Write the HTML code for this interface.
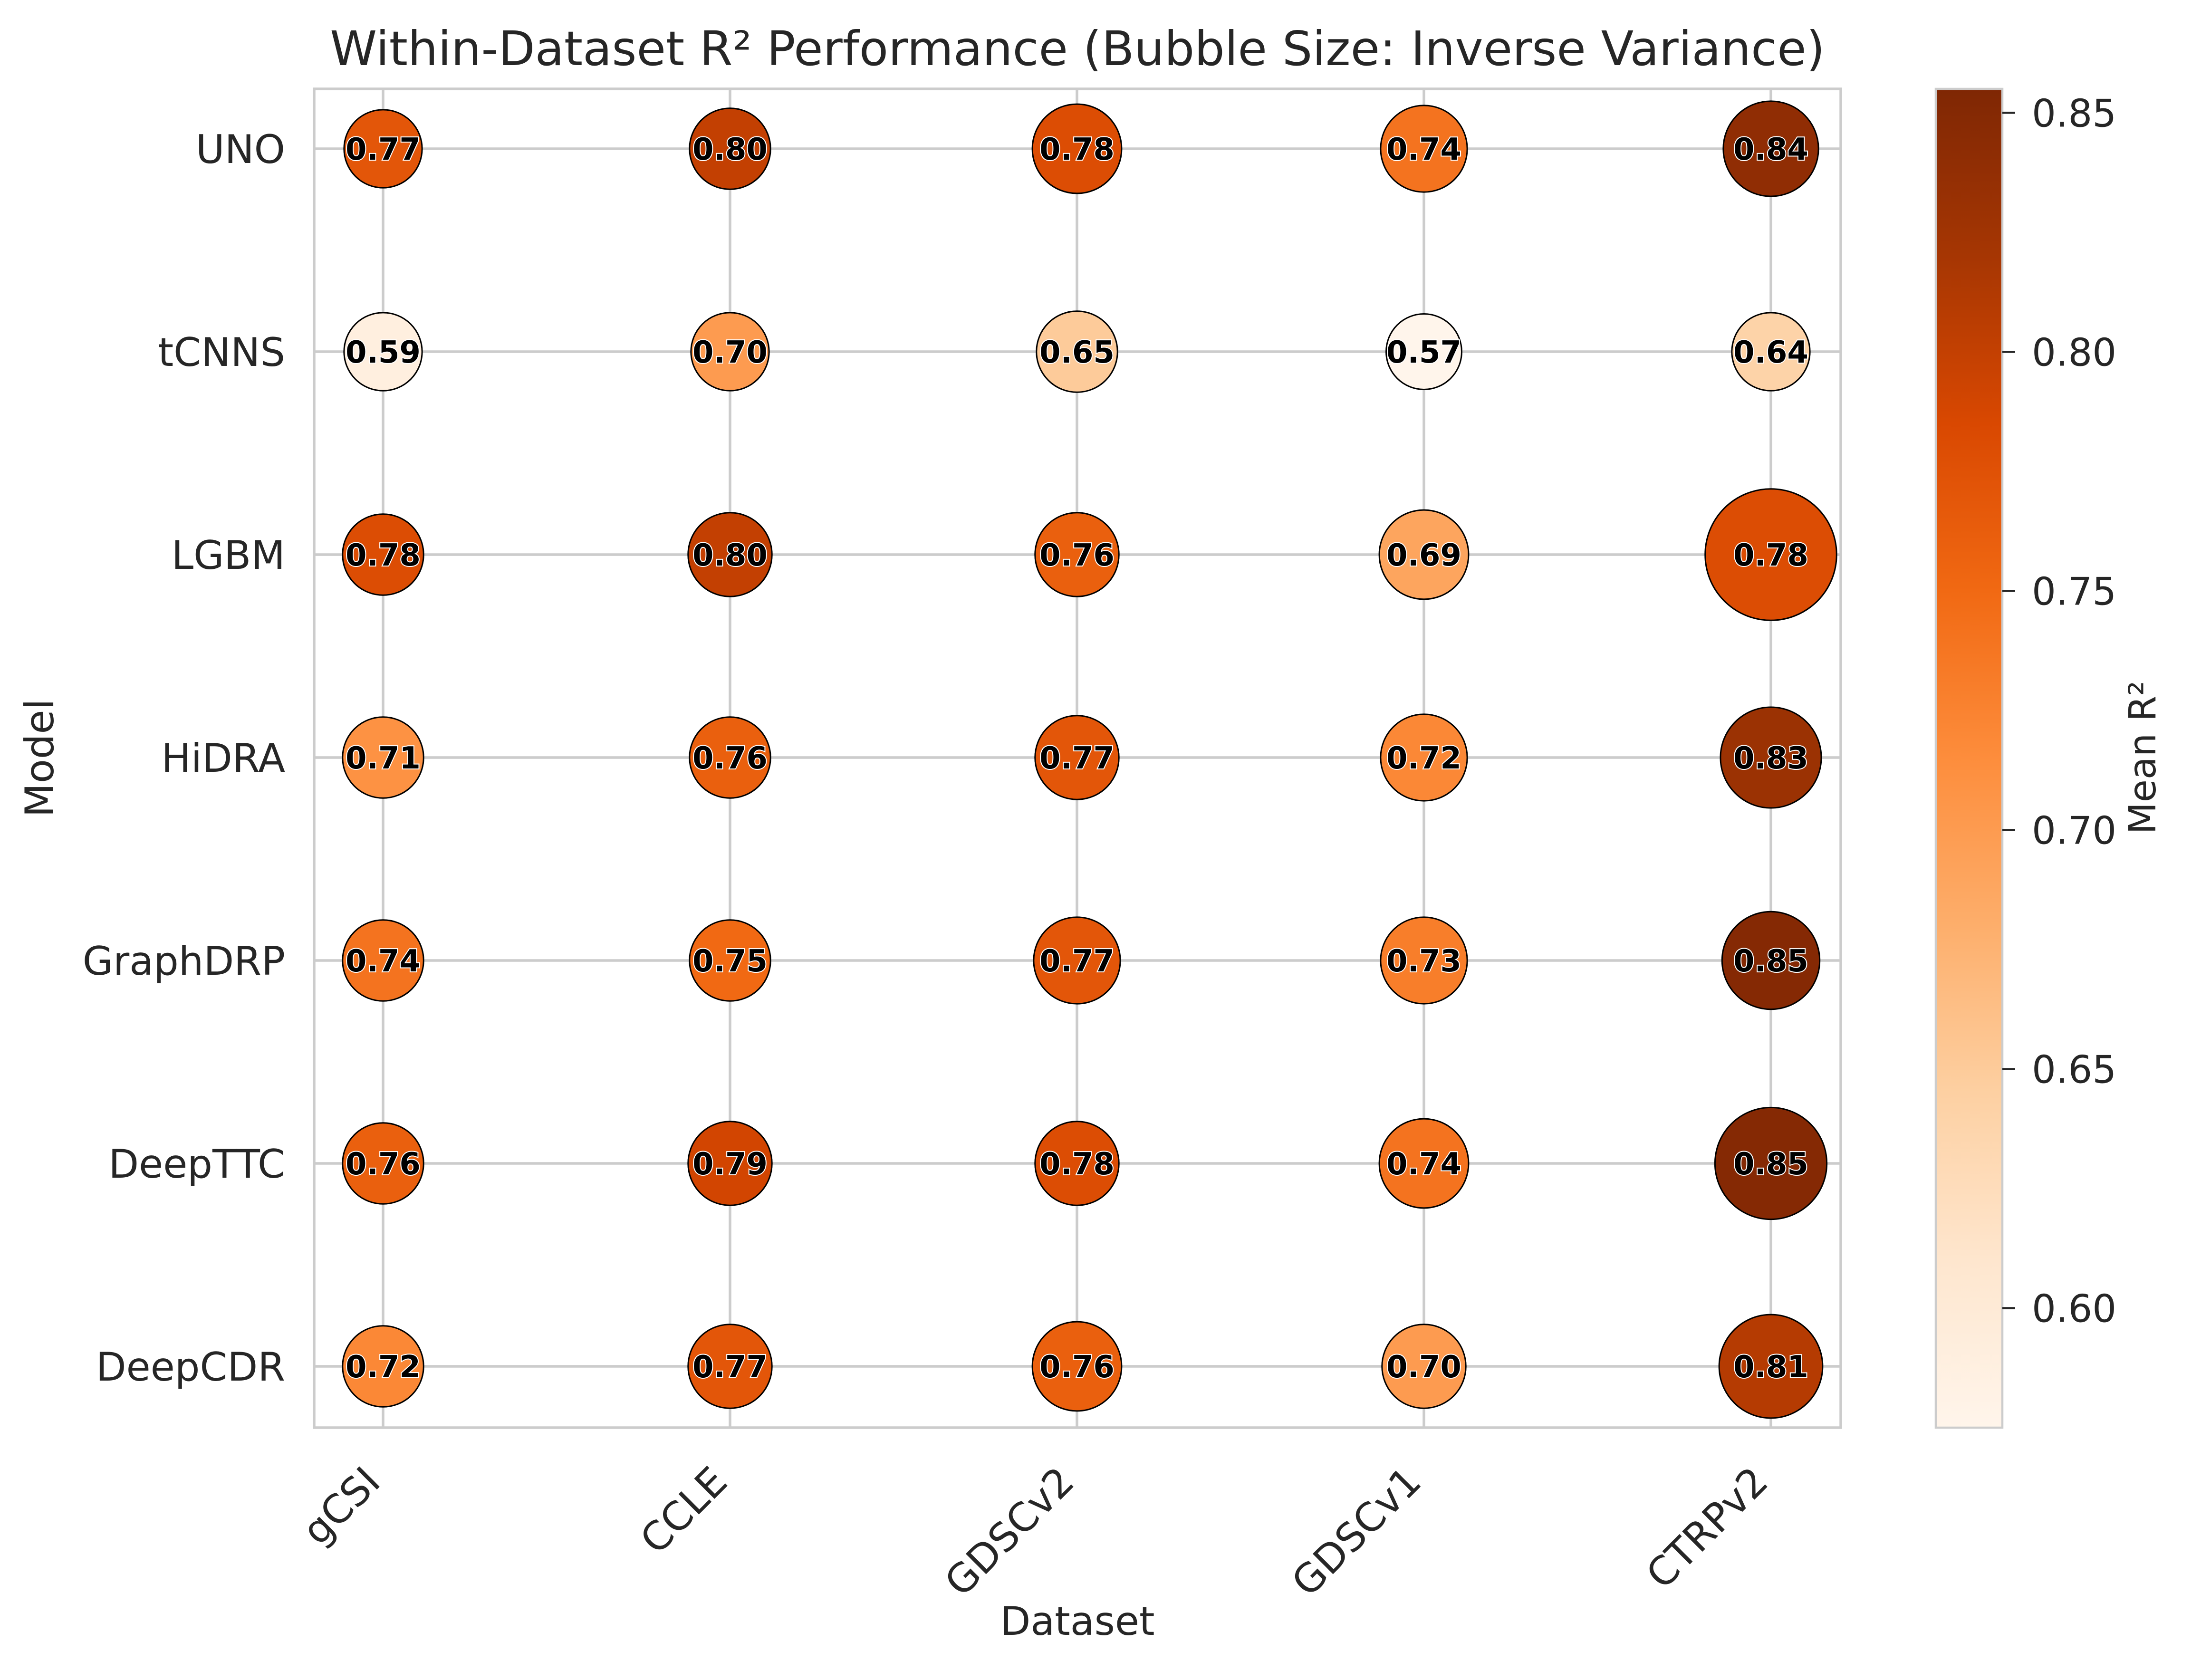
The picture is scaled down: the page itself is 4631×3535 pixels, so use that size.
<!DOCTYPE html>
<html><head><meta charset="utf-8"><style>html,body{margin:0;padding:0;background:#fff}svg{display:block}</style></head>
<body>
<svg id="chart" xmlns="http://www.w3.org/2000/svg" width="4631" height="3535" viewBox="0 0 4631 3535" font-family="'DejaVu Sans','Liberation Sans',sans-serif">
<rect width="4631" height="3535" fill="#fff"/>
<defs>
<linearGradient id="cbgrad" x1="0" y1="1" x2="0" y2="0">
<stop offset="0" stop-color="#fff5eb"/><stop offset="0.125" stop-color="#fee6ce"/><stop offset="0.25" stop-color="#fdd0a2"/><stop offset="0.375" stop-color="#fdae6b"/><stop offset="0.5" stop-color="#fd8d3c"/><stop offset="0.625" stop-color="#f16913"/><stop offset="0.75" stop-color="#d94801"/><stop offset="0.875" stop-color="#a63603"/><stop offset="1" stop-color="#7f2704"/>
</linearGradient>
</defs>
<text x="2267" y="137" font-size="100" fill="#262626" text-anchor="middle">Within-Dataset R² Performance (Bubble Size: Inverse Variance)</text>
<g id="grid"></g>
<g id="bubbles"></g>
<g id="axes"></g>
<g id="cbar"></g>
<text x="2267" y="3440" font-size="83" fill="#262626" text-anchor="middle">Dataset</text>
<text transform="translate(112,1595) rotate(-90)" font-size="83" fill="#262626" text-anchor="middle">Model</text>
<text transform="translate(4535,1594) rotate(-90)" font-size="78" fill="#262626" text-anchor="middle">Mean R²</text>
</svg>
<script>
const datasets = ["gCSI","CCLE","GDSCv2","GDSCv1","CTRPv2"];
const models = ["UNO","tCNNS","LGBM","HiDRA","GraphDRP","DeepTTC","DeepCDR"];
const r2UNO = [0.77,0.80,0.78,0.74,0.84];
const r2tCNNS = [0.59,0.70,0.65,0.57,0.64];
const r2LGBM = [0.78,0.80,0.76,0.69,0.78];
const r2HiDRA = [0.71,0.76,0.77,0.72,0.83];
const r2GraphDRP = [0.74,0.75,0.77,0.73,0.85];
const r2DeepTTC = [0.76,0.79,0.78,0.74,0.85];
const r2DeepCDR = [0.72,0.77,0.76,0.70,0.81];
const invVarUNO = [78,84,102,96,116];
const invVartCNNS = [78,78,84,73,78];
const invVarLGBM = [84,90,90,102,221];
const invVarHiDRA = [84,84,90,96,130];
const invVarGraphDRP = [84,84,96,96,122];
const invVarDeepTTC = [84,90,90,102,160];
const invVarDeepCDR = [84,90,102,90,137];
const cbTicks = [0.60,0.65,0.70,0.75,0.80,0.85];
const cbMin = 0.575, cbMax = 0.855;

const r2 = [r2UNO,r2tCNNS,r2LGBM,r2HiDRA,r2GraphDRP,r2DeepTTC,r2DeepCDR];
const iv = [invVarUNO,invVartCNNS,invVarLGBM,invVarHiDRA,invVarGraphDRP,invVarDeepTTC,invVarDeepCDR];
const NS="http://www.w3.org/2000/svg";
const L=661,R=3873,T=187,B=3004;
const xS=i=>806+i*730;
const yS=j=>313+j*427;
const rS=v=>Math.sqrt(v)*9.3;
const cbL=4073,cbR=4213;
const cbY=v=>B-(v-cbMin)/(cbMax-cbMin)*(B-T);
const stops=[[255,245,235],[254,230,206],[253,208,162],[253,174,107],[253,141,60],[241,105,19],[217,72,1],[166,54,3],[127,39,4]];
function cmap(v){let t=(v-cbMin)/(cbMax-cbMin);t=Math.max(0,Math.min(1,t))*8;const i=Math.min(7,Math.floor(t)),f=t-i;const a=stops[i],b=stops[i+1];return `rgb(${a.map((c,k)=>Math.round(c+(b[k]-c)*f)).join(',')})`;}
function mk(tag,attrs,parent){const e=document.createElementNS(NS,tag);for(const k in attrs)e.setAttribute(k,attrs[k]);parent.appendChild(e);return e;}
const grid=document.getElementById('grid'),bub=document.getElementById('bubbles'),axes=document.getElementById('axes'),cb=document.getElementById('cbar');
datasets.forEach((d,i)=>{
 const g=mk('line',{x1:xS(i),x2:xS(i),y1:T,y2:B,stroke:'#cccccc','stroke-width':5.5},grid);
 
 
 const t=mk('text',{transform:`translate(${xS(i)-45},${B+75}) rotate(-45)`,'font-size':83,fill:'#262626','text-anchor':'end','dominant-baseline':'hanging'},axes);
 t.textContent=d;
 
 
});
models.forEach((m,j)=>{
 const g=mk('line',{x1:L,x2:R,y1:yS(j),y2:yS(j),stroke:'#cccccc','stroke-width':5.5},grid);
 
 
 const t=mk('text',{x:600,y:yS(j)+30,'font-size':83,fill:'#262626','text-anchor':'end'},axes);
 t.textContent=m;
 
 
});
const fr=mk('rect',{x:L,y:T,width:R-L,height:B-T,fill:'none',stroke:'#cccccc','stroke-width':5.5},axes);


models.forEach((m,j)=>datasets.forEach((d,i)=>{
 const c=mk('circle',{cx:xS(i),cy:yS(j),r:rS(iv[j][i]),fill:cmap(r2[j][i]),stroke:'#000','stroke-width':3},bub);
 
 
 const t=mk('text',{x:xS(i),y:yS(j)+23,'font-size':64,'font-weight':'bold',fill:'#000','text-anchor':'middle',stroke:'#fff','stroke-width':4,'paint-order':'stroke'},bub);
 t.textContent=r2[j][i].toFixed(2);
 
 
}));
const cr=mk('rect',{x:cbL,y:T,width:cbR-cbL,height:B-T,fill:'url(#cbgrad)',stroke:'#cccccc','stroke-width':4.5},cb);


cbTicks.forEach(v=>{
 const y=cbY(v);
 const l=mk('line',{x1:cbR,x2:cbR+27,y1:y,y2:y,stroke:'#262626','stroke-width':4.5},cb);
 
 
 const t=mk('text',{x:4275,y:y+29,'font-size':80,fill:'#262626'},cb);
 t.textContent=v.toFixed(2);
 
 
});
</script>
</body></html>
